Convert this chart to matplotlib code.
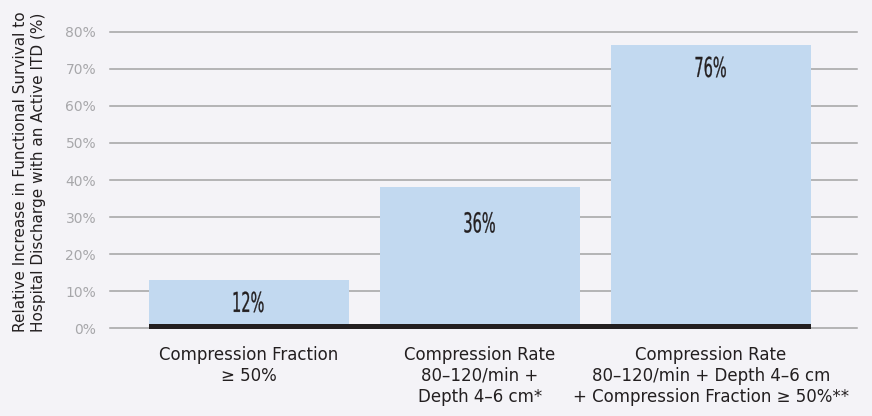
#!/usr/bin/env python3
# -*- coding=utf-8 -*-
import numpy as np
from matplotlib import pyplot as plt
from matplotlib.ticker import FuncFormatter
from matplotlib.textpath import TextPath
from matplotlib.patches import PathPatch
from matplotlib.font_manager import FontProperties
from matplotlib.transforms import Affine2D, IdentityTransform

plt.rcParams['font.family'] = ['DejaVu Sans']

# 数据
categories = [
    'Compression Fraction\n≥ 50%',
    'Compression Rate\n80–120/min +\nDepth 4–6 cm*',
    'Compression Rate\n80–120/min + Depth 4–6 cm\n+ Compression Fraction ≥ 50%**',
]
heights = [13, 38, 76.5]
value_labels = ['12%', '36%', '76%']
y_ticks = [0, 10, 20, 30, 40, 50, 60, 70, 80]

bg = '#f4f3f7'
bar_color = '#c2d9f0'
dark = '#231f20'


def narrow_text(fig, ax, xy, text, dy_px, height_px=20, squeeze=0.53):
    # 用TextPath画窄字体（没有装condensed字体）
    tp = TextPath((0, 0), text, size=1, prop=FontProperties(family='DejaVu Sans'))
    ext = tp.get_extents()
    cap = 0.729
    s = height_px / cap
    px, py = ax.transData.transform(xy)
    tr = (Affine2D().translate(-(ext.x0 + ext.x1) / 2, -cap / 2)
          .scale(s * squeeze, s).translate(px, py + dy_px))
    patch = PathPatch(tp, transform=tr + IdentityTransform(), facecolor=dark,
                      edgecolor=dark, linewidth=0.2, zorder=5)
    fig.add_artist(patch)


def draw_chart():
    fig = plt.figure(figsize=(8.72, 4.16), dpi=100, facecolor=bg)
    ax = fig.add_axes([0.1261, 0.2115, 0.8567, 0.7116])
    ax.set_facecolor(bg)

    x = np.arange(len(categories))
    w = 0.866

    # 网格线
    for t in y_ticks:
        ax.axhline(t, color='#a3a3a3', linewidth=1.1, zorder=1, clip_on=False)

    ax.bar(x, heights, width=w, color=bar_color, zorder=2)

    # 底部黑色条
    ax.bar(x[0] - w / 2, 1.4, width=x[-1] - x[0] + w, bottom=-0.3,
           align='edge', color=dark, zorder=3, clip_on=False)

    ax.set_xlim(-0.6, 2.633)
    ax.set_ylim(0, 80)
    ax.set_yticks(y_ticks)
    ax.yaxis.set_major_formatter(FuncFormatter(lambda v, p: '%d%%' % v))
    ax.set_xticks(x)
    ax.set_xticklabels(categories, fontsize=12, color=dark, linespacing=1.2)
    ax.tick_params(axis='y', length=0, pad=10, labelsize=10, labelcolor='#a7a7aa')
    ax.tick_params(axis='x', length=0, pad=13)
    for s in ax.spines.values():
        s.set_visible(False)

    # 柱内数值
    offsets = [-22, -35, -22]
    for xi, h, lab, off in zip(x, heights, value_labels, offsets):
        narrow_text(fig, ax, (xi, h), lab, off)

    fig.text(0.034, (416 - 332) / 416,
             'Relative Increase in Functional Survival to\n'
             'Hospital Discharge with an Active ITD (%)',
             rotation=90, ha='center', va='bottom', ma='left',
             fontsize=11, color=dark, linespacing=1.25)

    plt.savefig('out.png', dpi=100, facecolor=bg)


if __name__ == '__main__':
    draw_chart()
